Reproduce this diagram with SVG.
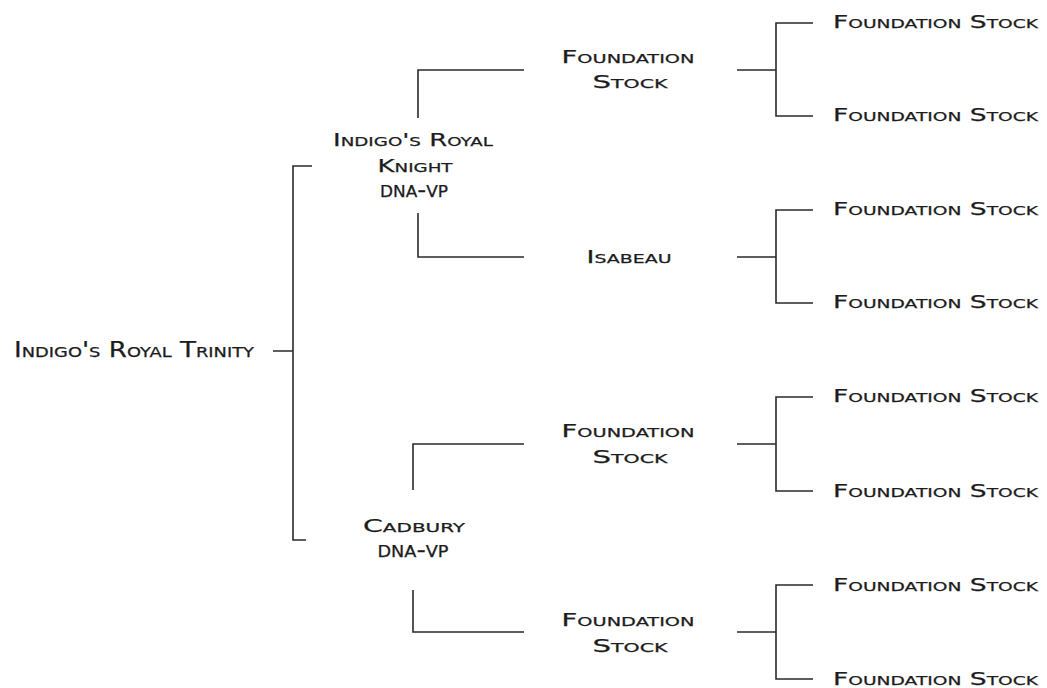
<svg xmlns="http://www.w3.org/2000/svg" width="1047" height="688" viewBox="0 0 1047 688">
<style>
text{font-family:"DejaVu Sans","Liberation Sans",sans-serif;font-variant:small-caps;font-size:18.5px;fill:#1c1c1c;stroke:#1c1c1c;stroke-width:0.25}
.root{font-size:20.5px}
.dna{font-size:22px}
.c{text-anchor:middle}
.ln{fill:none;stroke:#2a2a2a;stroke-width:1.6}
</style>
<rect width="1047" height="688" fill="#fff"/>
<g id="connectors" class="ln">
<path d="M273,351H293M312,166H293V540H306"/>
<path d="M524,70H418V118M418,213V257H524"/>
<path d="M524,444H413V490M413,590V632H524"/>
<path d="M737,70H776M813,23H776V116H813"/>
<path d="M737,257H776M813,210H776V303H813"/>
<path d="M737,444H776M813,397H776V491H813"/>
<path d="M737,632H776M813,585H776V679H813"/>
</g>
<g id="n-root"><text class="root" x="14" y="357" textLength="240" lengthAdjust="spacingAndGlyphs">Indigo's Royal Trinity</text></g>
<g id="n-knight">
<text class="c" x="413" y="146" textLength="160" lengthAdjust="spacingAndGlyphs">Indigo's Royal</text>
<text class="c" x="415" y="172" textLength="75" lengthAdjust="spacingAndGlyphs">Knight</text>
<text class="c dna" x="414" y="197" textLength="68" lengthAdjust="spacingAndGlyphs">dna-vp</text>
</g>
<g id="n-cadbury">
<text class="c" x="414" y="532" textLength="102" lengthAdjust="spacingAndGlyphs">Cadbury</text>
<text class="c dna" x="413" y="557" textLength="71" lengthAdjust="spacingAndGlyphs">dna-vp</text>
</g>
<g id="n-fs1">
<text class="c" x="628" y="63" textLength="133" lengthAdjust="spacingAndGlyphs">Foundation</text>
<text class="c" x="630" y="88" textLength="75" lengthAdjust="spacingAndGlyphs">Stock</text>
</g>
<g id="n-isabeau"><text class="c" x="629" y="263" textLength="85" lengthAdjust="spacingAndGlyphs">Isabeau</text></g>
<g id="n-fs2">
<text class="c" x="628" y="437" textLength="133" lengthAdjust="spacingAndGlyphs">Foundation</text>
<text class="c" x="630" y="463" textLength="75" lengthAdjust="spacingAndGlyphs">Stock</text>
</g>
<g id="n-fs3">
<text class="c" x="628" y="626" textLength="133" lengthAdjust="spacingAndGlyphs">Foundation</text>
<text class="c" x="630" y="652" textLength="75" lengthAdjust="spacingAndGlyphs">Stock</text>
</g>
<g id="n-leaf1"><text x="833" y="28" textLength="205" lengthAdjust="spacingAndGlyphs">Foundation Stock</text></g>
<g id="n-leaf2"><text x="833" y="121" textLength="205" lengthAdjust="spacingAndGlyphs">Foundation Stock</text></g>
<g id="n-leaf3"><text x="833" y="215" textLength="205" lengthAdjust="spacingAndGlyphs">Foundation Stock</text></g>
<g id="n-leaf4"><text x="833" y="308" textLength="205" lengthAdjust="spacingAndGlyphs">Foundation Stock</text></g>
<g id="n-leaf5"><text x="833" y="402" textLength="205" lengthAdjust="spacingAndGlyphs">Foundation Stock</text></g>
<g id="n-leaf6"><text x="833" y="497" textLength="205" lengthAdjust="spacingAndGlyphs">Foundation Stock</text></g>
<g id="n-leaf7"><text x="833" y="591" textLength="205" lengthAdjust="spacingAndGlyphs">Foundation Stock</text></g>
<g id="n-leaf8"><text x="833" y="685" textLength="205" lengthAdjust="spacingAndGlyphs">Foundation Stock</text></g>
</svg>
